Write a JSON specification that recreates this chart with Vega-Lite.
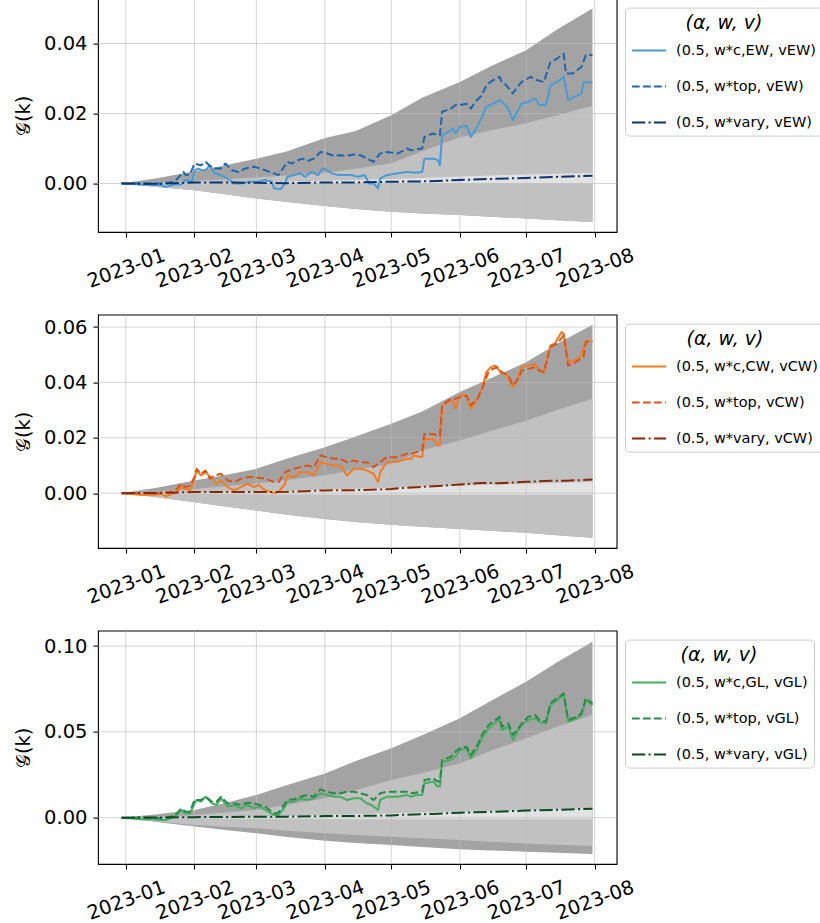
{
"$schema":"https://vega.github.io/schema/vega-lite/v6.json",
"padding":{"left":13,"top":-3.4,"right":0,"bottom":0},
"datasets":{
"gx":[{"d":"2023-01-01"},{"d":"2023-02-01"},{"d":"2023-03-01"},{"d":"2023-04-01"},{"d":"2023-05-01"},{"d":"2023-06-01"},{"d":"2023-07-01"},{"d":"2023-08-01"}],
"gy":[{"p":"E","v":0},{"p":"E","v":0.02},{"p":"E","v":0.04},{"p":"C","v":0},{"p":"C","v":0.02},{"p":"C","v":0.04},{"p":"C","v":0.06},{"p":"G","v":0},{"p":"G","v":0.05},{"p":"G","v":0.1}],
"bands":[
{"p":"E","d":"2022-12-30","dl":0,"dh":0,"ll":0,"lh":0,"sl":0,"sh":0},
{"p":"E","d":"2023-01-15","dl":-0.001,"dh":0.0015,"ll":-0.001,"lh":0.0003,"sl":0,"sh":0.0001},
{"p":"E","d":"2023-02-01","dl":-0.0019,"dh":0.0035,"ll":-0.0019,"lh":0.0008,"sl":0,"sh":0.0002},
{"p":"E","d":"2023-02-15","dl":-0.0031,"dh":0.0052,"ll":-0.0031,"lh":0.0012,"sl":0,"sh":0.0003},
{"p":"E","d":"2023-03-01","dl":-0.0043,"dh":0.0071,"ll":-0.0043,"lh":0.0017,"sl":0,"sh":0.0004},
{"p":"E","d":"2023-03-15","dl":-0.0053,"dh":0.0092,"ll":-0.0053,"lh":0.0023,"sl":0,"sh":0.0006},
{"p":"E","d":"2023-04-01","dl":-0.0064,"dh":0.013,"ll":-0.0064,"lh":0.0031,"sl":0,"sh":0.0008},
{"p":"E","d":"2023-04-15","dl":-0.0073,"dh":0.015,"ll":-0.0073,"lh":0.0042,"sl":0,"sh":0.001},
{"p":"E","d":"2023-05-01","dl":-0.0081,"dh":0.0195,"ll":-0.0081,"lh":0.0058,"sl":0,"sh":0.0013},
{"p":"E","d":"2023-05-15","dl":-0.0086,"dh":0.0245,"ll":-0.0086,"lh":0.0092,"sl":0,"sh":0.0016},
{"p":"E","d":"2023-06-01","dl":-0.009,"dh":0.029,"ll":-0.009,"lh":0.0132,"sl":0,"sh":0.002},
{"p":"E","d":"2023-06-15","dl":-0.0095,"dh":0.0335,"ll":-0.0095,"lh":0.0152,"sl":0,"sh":0.0023},
{"p":"E","d":"2023-07-01","dl":-0.01,"dh":0.0381,"ll":-0.01,"lh":0.0172,"sl":0,"sh":0.0026},
{"p":"E","d":"2023-07-15","dl":-0.0105,"dh":0.044,"ll":-0.0105,"lh":0.0195,"sl":0,"sh":0.0028},
{"p":"E","d":"2023-07-31","dl":-0.011,"dh":0.05,"ll":-0.011,"lh":0.0222,"sl":0,"sh":0.003},
{"p":"C","d":"2022-12-30","dl":0,"dh":0,"ll":0,"lh":0,"sl":0,"sh":0},
{"p":"C","d":"2023-01-15","dl":-0.0015,"dh":0.002,"ll":-0.0015,"lh":0.0005,"sl":-0.0001,"sh":0.0001},
{"p":"C","d":"2023-02-01","dl":-0.0033,"dh":0.0046,"ll":-0.0033,"lh":0.0015,"sl":-0.0002,"sh":0.0003},
{"p":"C","d":"2023-02-15","dl":-0.0048,"dh":0.0066,"ll":-0.0048,"lh":0.0025,"sl":-0.0003,"sh":0.0005},
{"p":"C","d":"2023-03-01","dl":-0.0063,"dh":0.0088,"ll":-0.0063,"lh":0.0035,"sl":-0.0004,"sh":0.0007},
{"p":"C","d":"2023-03-15","dl":-0.0078,"dh":0.0125,"ll":-0.0078,"lh":0.0048,"sl":-0.0005,"sh":0.0009},
{"p":"C","d":"2023-04-01","dl":-0.0093,"dh":0.0166,"ll":-0.0093,"lh":0.0065,"sl":-0.0005,"sh":0.0012},
{"p":"C","d":"2023-04-15","dl":-0.0104,"dh":0.0205,"ll":-0.0104,"lh":0.0085,"sl":-0.0006,"sh":0.0016},
{"p":"C","d":"2023-05-01","dl":-0.0114,"dh":0.0251,"ll":-0.0114,"lh":0.0105,"sl":-0.0006,"sh":0.002},
{"p":"C","d":"2023-05-15","dl":-0.0121,"dh":0.0295,"ll":-0.0121,"lh":0.0155,"sl":-0.0006,"sh":0.0024},
{"p":"C","d":"2023-06-01","dl":-0.0129,"dh":0.0365,"ll":-0.0129,"lh":0.019,"sl":-0.0006,"sh":0.0028},
{"p":"C","d":"2023-06-15","dl":-0.0136,"dh":0.0415,"ll":-0.0136,"lh":0.0225,"sl":-0.0006,"sh":0.0031},
{"p":"C","d":"2023-07-01","dl":-0.0143,"dh":0.0473,"ll":-0.0143,"lh":0.0262,"sl":-0.0006,"sh":0.0034},
{"p":"C","d":"2023-07-15","dl":-0.0152,"dh":0.054,"ll":-0.0152,"lh":0.03,"sl":-0.0006,"sh":0.0037},
{"p":"C","d":"2023-07-31","dl":-0.0161,"dh":0.0608,"ll":-0.0161,"lh":0.0341,"sl":-0.0006,"sh":0.004},
{"p":"G","d":"2022-12-30","dl":0,"dh":0,"ll":0,"lh":0,"sl":0,"sh":0},
{"p":"G","d":"2023-01-15","dl":-0.0025,"dh":0.002,"ll":-0.0022,"lh":0.0005,"sl":-0.0002,"sh":0.0001},
{"p":"G","d":"2023-02-01","dl":-0.0052,"dh":0.0045,"ll":-0.0043,"lh":0.0016,"sl":-0.0004,"sh":0.0003},
{"p":"G","d":"2023-02-15","dl":-0.0072,"dh":0.0085,"ll":-0.0053,"lh":0.003,"sl":-0.0005,"sh":0.0005},
{"p":"G","d":"2023-03-01","dl":-0.0091,"dh":0.0132,"ll":-0.0062,"lh":0.0045,"sl":-0.0006,"sh":0.0007},
{"p":"G","d":"2023-03-15","dl":-0.0113,"dh":0.019,"ll":-0.0077,"lh":0.0075,"sl":-0.0007,"sh":0.001},
{"p":"G","d":"2023-04-01","dl":-0.0134,"dh":0.0258,"ll":-0.0091,"lh":0.0113,"sl":-0.0008,"sh":0.0015},
{"p":"G","d":"2023-04-15","dl":-0.0148,"dh":0.033,"ll":-0.0101,"lh":0.016,"sl":-0.0009,"sh":0.002},
{"p":"G","d":"2023-05-01","dl":-0.0159,"dh":0.0404,"ll":-0.0111,"lh":0.0219,"sl":-0.001,"sh":0.0025},
{"p":"G","d":"2023-05-15","dl":-0.0171,"dh":0.048,"ll":-0.012,"lh":0.026,"sl":-0.001,"sh":0.003},
{"p":"G","d":"2023-06-01","dl":-0.0184,"dh":0.0579,"ll":-0.013,"lh":0.0316,"sl":-0.001,"sh":0.0035},
{"p":"G","d":"2023-06-15","dl":-0.0191,"dh":0.068,"ll":-0.014,"lh":0.039,"sl":-0.001,"sh":0.004},
{"p":"G","d":"2023-07-01","dl":-0.0198,"dh":0.0792,"ll":-0.015,"lh":0.0462,"sl":-0.001,"sh":0.0045},
{"p":"G","d":"2023-07-15","dl":-0.0205,"dh":0.0905,"ll":-0.0158,"lh":0.053,"sl":-0.001,"sh":0.005},
{"p":"G","d":"2023-07-31","dl":-0.0212,"dh":0.1025,"ll":-0.0165,"lh":0.06,"sl":-0.001,"sh":0.0055}
],
"lines":[
{"p":"E","s":"c","d":"2022-12-30","g":0},{"p":"E","s":"c","d":"2023-01-08","g":-0.0003},{"p":"E","s":"c","d":"2023-01-17","g":-0.0005},{"p":"E","s":"c","d":"2023-01-19","g":-0.001},{"p":"E","s":"c","d":"2023-01-23","g":-0.0003},{"p":"E","s":"c","d":"2023-01-26","g":-0.0003},{"p":"E","s":"c","d":"2023-01-28","g":0.001},{"p":"E","s":"c","d":"2023-01-31","g":0.0005},{"p":"E","s":"c","d":"2023-02-01","g":0.0038},{"p":"E","s":"c","d":"2023-02-03","g":0.0043},{"p":"E","s":"c","d":"2023-02-04","g":0.0038},{"p":"E","s":"c","d":"2023-02-06","g":0.0038},{"p":"E","s":"c","d":"2023-02-08","g":0.0052},{"p":"E","s":"c","d":"2023-02-10","g":0.0029},{"p":"E","s":"c","d":"2023-02-13","g":0.0024},{"p":"E","s":"c","d":"2023-02-16","g":0.0014},{"p":"E","s":"c","d":"2023-02-19","g":0},{"p":"E","s":"c","d":"2023-02-22","g":0},{"p":"E","s":"c","d":"2023-02-26","g":0.0005},{"p":"E","s":"c","d":"2023-03-02","g":0.0005},{"p":"E","s":"c","d":"2023-03-05","g":0.001},{"p":"E","s":"c","d":"2023-03-08","g":0.0005},{"p":"E","s":"c","d":"2023-03-09","g":-0.0014},{"p":"E","s":"c","d":"2023-03-12","g":-0.0016},{"p":"E","s":"c","d":"2023-03-14","g":0},{"p":"E","s":"c","d":"2023-03-15","g":0.0019},{"p":"E","s":"c","d":"2023-03-18","g":0.0024},{"p":"E","s":"c","d":"2023-03-21","g":0.0029},{"p":"E","s":"c","d":"2023-03-23","g":0.0019},{"p":"E","s":"c","d":"2023-03-26","g":0.0033},{"p":"E","s":"c","d":"2023-03-29","g":0.0024},{"p":"E","s":"c","d":"2023-03-31","g":0.0043},{"p":"E","s":"c","d":"2023-04-02","g":0.0038},{"p":"E","s":"c","d":"2023-04-04","g":0.0029},{"p":"E","s":"c","d":"2023-04-07","g":0.0024},{"p":"E","s":"c","d":"2023-04-10","g":0.0024},{"p":"E","s":"c","d":"2023-04-13","g":0.0024},{"p":"E","s":"c","d":"2023-04-16","g":0.0019},{"p":"E","s":"c","d":"2023-04-19","g":0.0024},{"p":"E","s":"c","d":"2023-04-21","g":0},{"p":"E","s":"c","d":"2023-04-23","g":0},{"p":"E","s":"c","d":"2023-04-25","g":-0.0014},{"p":"E","s":"c","d":"2023-04-26","g":0.0014},{"p":"E","s":"c","d":"2023-04-29","g":0.0024},{"p":"E","s":"c","d":"2023-05-04","g":0.0029},{"p":"E","s":"c","d":"2023-05-08","g":0.0033},{"p":"E","s":"c","d":"2023-05-12","g":0.0031},{"p":"E","s":"c","d":"2023-05-15","g":0.0033},{"p":"E","s":"c","d":"2023-05-16","g":0.0071},{"p":"E","s":"c","d":"2023-05-20","g":0.0071},{"p":"E","s":"c","d":"2023-05-22","g":0.0067},{"p":"E","s":"c","d":"2023-05-23","g":0.0052},{"p":"E","s":"c","d":"2023-05-24","g":0.0138},{"p":"E","s":"c","d":"2023-05-28","g":0.0152},{"p":"E","s":"c","d":"2023-05-29","g":0.0157},{"p":"E","s":"c","d":"2023-05-30","g":0.0143},{"p":"E","s":"c","d":"2023-06-01","g":0.0162},{"p":"E","s":"c","d":"2023-06-04","g":0.0165},{"p":"E","s":"c","d":"2023-06-06","g":0.0133},{"p":"E","s":"c","d":"2023-06-08","g":0.0152},{"p":"E","s":"c","d":"2023-06-11","g":0.019},{"p":"E","s":"c","d":"2023-06-13","g":0.0219},{"p":"E","s":"c","d":"2023-06-16","g":0.0228},{"p":"E","s":"c","d":"2023-06-19","g":0.0238},{"p":"E","s":"c","d":"2023-06-21","g":0.0228},{"p":"E","s":"c","d":"2023-06-23","g":0.0214},{"p":"E","s":"c","d":"2023-06-25","g":0.0181},{"p":"E","s":"c","d":"2023-06-27","g":0.0205},{"p":"E","s":"c","d":"2023-06-29","g":0.0228},{"p":"E","s":"c","d":"2023-07-02","g":0.0233},{"p":"E","s":"c","d":"2023-07-05","g":0.0243},{"p":"E","s":"c","d":"2023-07-07","g":0.0224},{"p":"E","s":"c","d":"2023-07-10","g":0.0224},{"p":"E","s":"c","d":"2023-07-12","g":0.0281},{"p":"E","s":"c","d":"2023-07-15","g":0.029},{"p":"E","s":"c","d":"2023-07-18","g":0.0305},{"p":"E","s":"c","d":"2023-07-20","g":0.0238},{"p":"E","s":"c","d":"2023-07-23","g":0.0248},{"p":"E","s":"c","d":"2023-07-26","g":0.0257},{"p":"E","s":"c","d":"2023-07-27","g":0.029},{"p":"E","s":"c","d":"2023-07-31","g":0.0288},
{"p":"E","s":"top","d":"2022-12-30","g":0},{"p":"E","s":"top","d":"2023-01-08","g":0},{"p":"E","s":"top","d":"2023-01-17","g":0},{"p":"E","s":"top","d":"2023-01-23","g":0.0005},{"p":"E","s":"top","d":"2023-01-25","g":0.0019},{"p":"E","s":"top","d":"2023-01-27","g":0.0033},{"p":"E","s":"top","d":"2023-01-28","g":0.0024},{"p":"E","s":"top","d":"2023-01-30","g":0.0026},{"p":"E","s":"top","d":"2023-02-01","g":0.0057},{"p":"E","s":"top","d":"2023-02-04","g":0.0052},{"p":"E","s":"top","d":"2023-02-06","g":0.0062},{"p":"E","s":"top","d":"2023-02-08","g":0.005},{"p":"E","s":"top","d":"2023-02-10","g":0.0043},{"p":"E","s":"top","d":"2023-02-13","g":0.0043},{"p":"E","s":"top","d":"2023-02-15","g":0.0057},{"p":"E","s":"top","d":"2023-02-18","g":0.0038},{"p":"E","s":"top","d":"2023-02-21","g":0.0033},{"p":"E","s":"top","d":"2023-02-24","g":0.0043},{"p":"E","s":"top","d":"2023-02-28","g":0.0048},{"p":"E","s":"top","d":"2023-03-05","g":0.0038},{"p":"E","s":"top","d":"2023-03-09","g":0.0029},{"p":"E","s":"top","d":"2023-03-11","g":0.0024},{"p":"E","s":"top","d":"2023-03-14","g":0.0052},{"p":"E","s":"top","d":"2023-03-15","g":0.0062},{"p":"E","s":"top","d":"2023-03-17","g":0.0057},{"p":"E","s":"top","d":"2023-03-20","g":0.0067},{"p":"E","s":"top","d":"2023-03-22","g":0.0071},{"p":"E","s":"top","d":"2023-03-24","g":0.0064},{"p":"E","s":"top","d":"2023-03-27","g":0.0071},{"p":"E","s":"top","d":"2023-03-30","g":0.009},{"p":"E","s":"top","d":"2023-04-02","g":0.0086},{"p":"E","s":"top","d":"2023-04-05","g":0.0079},{"p":"E","s":"top","d":"2023-04-08","g":0.0081},{"p":"E","s":"top","d":"2023-04-11","g":0.0079},{"p":"E","s":"top","d":"2023-04-14","g":0.0083},{"p":"E","s":"top","d":"2023-04-17","g":0.0081},{"p":"E","s":"top","d":"2023-04-20","g":0.0071},{"p":"E","s":"top","d":"2023-04-23","g":0.0062},{"p":"E","s":"top","d":"2023-04-26","g":0.0086},{"p":"E","s":"top","d":"2023-04-29","g":0.009},{"p":"E","s":"top","d":"2023-05-04","g":0.0086},{"p":"E","s":"top","d":"2023-05-08","g":0.01},{"p":"E","s":"top","d":"2023-05-10","g":0.0095},{"p":"E","s":"top","d":"2023-05-15","g":0.01},{"p":"E","s":"top","d":"2023-05-16","g":0.0133},{"p":"E","s":"top","d":"2023-05-20","g":0.0143},{"p":"E","s":"top","d":"2023-05-22","g":0.0138},{"p":"E","s":"top","d":"2023-05-23","g":0.0138},{"p":"E","s":"top","d":"2023-05-24","g":0.0205},{"p":"E","s":"top","d":"2023-05-28","g":0.0214},{"p":"E","s":"top","d":"2023-05-30","g":0.0224},{"p":"E","s":"top","d":"2023-06-01","g":0.0224},{"p":"E","s":"top","d":"2023-06-04","g":0.0228},{"p":"E","s":"top","d":"2023-06-06","g":0.0214},{"p":"E","s":"top","d":"2023-06-08","g":0.0233},{"p":"E","s":"top","d":"2023-06-11","g":0.0252},{"p":"E","s":"top","d":"2023-06-13","g":0.0281},{"p":"E","s":"top","d":"2023-06-16","g":0.0295},{"p":"E","s":"top","d":"2023-06-19","g":0.0305},{"p":"E","s":"top","d":"2023-06-20","g":0.029},{"p":"E","s":"top","d":"2023-06-22","g":0.0281},{"p":"E","s":"top","d":"2023-06-25","g":0.0257},{"p":"E","s":"top","d":"2023-06-27","g":0.0276},{"p":"E","s":"top","d":"2023-06-29","g":0.029},{"p":"E","s":"top","d":"2023-07-03","g":0.0305},{"p":"E","s":"top","d":"2023-07-06","g":0.0295},{"p":"E","s":"top","d":"2023-07-09","g":0.029},{"p":"E","s":"top","d":"2023-07-12","g":0.0347},{"p":"E","s":"top","d":"2023-07-15","g":0.0357},{"p":"E","s":"top","d":"2023-07-18","g":0.0371},{"p":"E","s":"top","d":"2023-07-19","g":0.0314},{"p":"E","s":"top","d":"2023-07-22","g":0.0314},{"p":"E","s":"top","d":"2023-07-26","g":0.0333},{"p":"E","s":"top","d":"2023-07-28","g":0.0367},{"p":"E","s":"top","d":"2023-07-31","g":0.0367},
{"p":"E","s":"vary","d":"2022-12-30","g":0},{"p":"E","s":"vary","d":"2023-01-15","g":-0.0001},{"p":"E","s":"vary","d":"2023-02-01","g":0.0003},{"p":"E","s":"vary","d":"2023-02-15","g":0.0003},{"p":"E","s":"vary","d":"2023-03-01","g":0.0002},{"p":"E","s":"vary","d":"2023-03-15","g":0.0001},{"p":"E","s":"vary","d":"2023-04-01","g":0.0003},{"p":"E","s":"vary","d":"2023-04-15","g":0.0003},{"p":"E","s":"vary","d":"2023-05-01","g":0.0005},{"p":"E","s":"vary","d":"2023-05-15","g":0.0006},{"p":"E","s":"vary","d":"2023-05-25","g":0.0008},{"p":"E","s":"vary","d":"2023-06-01","g":0.001},{"p":"E","s":"vary","d":"2023-06-15","g":0.0013},{"p":"E","s":"vary","d":"2023-07-01","g":0.0016},{"p":"E","s":"vary","d":"2023-07-15","g":0.0019},{"p":"E","s":"vary","d":"2023-07-31","g":0.0022},
{"p":"C","s":"c","d":"2022-12-30","g":0},{"p":"C","s":"c","d":"2023-01-08","g":-0.0006},{"p":"C","s":"c","d":"2023-01-14","g":-0.0006},{"p":"C","s":"c","d":"2023-01-17","g":-0.0002},{"p":"C","s":"c","d":"2023-01-19","g":-0.0012},{"p":"C","s":"c","d":"2023-01-22","g":-0.0002},{"p":"C","s":"c","d":"2023-01-24","g":0.0004},{"p":"C","s":"c","d":"2023-01-26","g":0.0022},{"p":"C","s":"c","d":"2023-01-28","g":0.0016},{"p":"C","s":"c","d":"2023-01-30","g":0.001},{"p":"C","s":"c","d":"2023-02-01","g":0.0052},{"p":"C","s":"c","d":"2023-02-02","g":0.0082},{"p":"C","s":"c","d":"2023-02-04","g":0.0064},{"p":"C","s":"c","d":"2023-02-06","g":0.0076},{"p":"C","s":"c","d":"2023-02-09","g":0.0052},{"p":"C","s":"c","d":"2023-02-11","g":0.0034},{"p":"C","s":"c","d":"2023-02-13","g":0.0046},{"p":"C","s":"c","d":"2023-02-16","g":0.0022},{"p":"C","s":"c","d":"2023-02-19","g":0.001},{"p":"C","s":"c","d":"2023-02-22","g":0.0022},{"p":"C","s":"c","d":"2023-02-25","g":0.0034},{"p":"C","s":"c","d":"2023-02-28","g":0.0022},{"p":"C","s":"c","d":"2023-03-02","g":0.003},{"p":"C","s":"c","d":"2023-03-05","g":0.001},{"p":"C","s":"c","d":"2023-03-09","g":0.0001},{"p":"C","s":"c","d":"2023-03-11","g":0.0004},{"p":"C","s":"c","d":"2023-03-14","g":0.0034},{"p":"C","s":"c","d":"2023-03-15","g":0.0064},{"p":"C","s":"c","d":"2023-03-18","g":0.0058},{"p":"C","s":"c","d":"2023-03-21","g":0.0076},{"p":"C","s":"c","d":"2023-03-24","g":0.0076},{"p":"C","s":"c","d":"2023-03-27","g":0.0064},{"p":"C","s":"c","d":"2023-03-30","g":0.0112},{"p":"C","s":"c","d":"2023-04-02","g":0.0106},{"p":"C","s":"c","d":"2023-04-05","g":0.01},{"p":"C","s":"c","d":"2023-04-08","g":0.01},{"p":"C","s":"c","d":"2023-04-11","g":0.0064},{"p":"C","s":"c","d":"2023-04-14","g":0.0088},{"p":"C","s":"c","d":"2023-04-17","g":0.0088},{"p":"C","s":"c","d":"2023-04-20","g":0.0082},{"p":"C","s":"c","d":"2023-04-23","g":0.007},{"p":"C","s":"c","d":"2023-04-25","g":0.004},{"p":"C","s":"c","d":"2023-04-26","g":0.0076},{"p":"C","s":"c","d":"2023-04-29","g":0.0112},{"p":"C","s":"c","d":"2023-05-04","g":0.0114},{"p":"C","s":"c","d":"2023-05-08","g":0.0124},{"p":"C","s":"c","d":"2023-05-10","g":0.0124},{"p":"C","s":"c","d":"2023-05-11","g":0.0136},{"p":"C","s":"c","d":"2023-05-15","g":0.013},{"p":"C","s":"c","d":"2023-05-16","g":0.0196},{"p":"C","s":"c","d":"2023-05-20","g":0.0196},{"p":"C","s":"c","d":"2023-05-22","g":0.0172},{"p":"C","s":"c","d":"2023-05-23","g":0.0172},{"p":"C","s":"c","d":"2023-05-24","g":0.0317},{"p":"C","s":"c","d":"2023-05-28","g":0.0335},{"p":"C","s":"c","d":"2023-05-29","g":0.0329},{"p":"C","s":"c","d":"2023-05-30","g":0.0305},{"p":"C","s":"c","d":"2023-06-01","g":0.0353},{"p":"C","s":"c","d":"2023-06-04","g":0.0355},{"p":"C","s":"c","d":"2023-06-06","g":0.0305},{"p":"C","s":"c","d":"2023-06-09","g":0.0341},{"p":"C","s":"c","d":"2023-06-11","g":0.0377},{"p":"C","s":"c","d":"2023-06-13","g":0.0437},{"p":"C","s":"c","d":"2023-06-15","g":0.0455},{"p":"C","s":"c","d":"2023-06-17","g":0.0461},{"p":"C","s":"c","d":"2023-06-20","g":0.0431},{"p":"C","s":"c","d":"2023-06-22","g":0.0431},{"p":"C","s":"c","d":"2023-06-25","g":0.0383},{"p":"C","s":"c","d":"2023-06-27","g":0.0413},{"p":"C","s":"c","d":"2023-06-29","g":0.0455},{"p":"C","s":"c","d":"2023-07-02","g":0.0461},{"p":"C","s":"c","d":"2023-07-05","g":0.0467},{"p":"C","s":"c","d":"2023-07-07","g":0.0443},{"p":"C","s":"c","d":"2023-07-09","g":0.0437},{"p":"C","s":"c","d":"2023-07-12","g":0.0534},{"p":"C","s":"c","d":"2023-07-14","g":0.054},{"p":"C","s":"c","d":"2023-07-17","g":0.0582},{"p":"C","s":"c","d":"2023-07-18","g":0.0576},{"p":"C","s":"c","d":"2023-07-20","g":0.0473},{"p":"C","s":"c","d":"2023-07-24","g":0.0483},{"p":"C","s":"c","d":"2023-07-26","g":0.0498},{"p":"C","s":"c","d":"2023-07-28","g":0.0552},{"p":"C","s":"c","d":"2023-07-31","g":0.0548},
{"p":"C","s":"top","d":"2022-12-30","g":0},{"p":"C","s":"top","d":"2023-01-08","g":0},{"p":"C","s":"top","d":"2023-01-17","g":0},{"p":"C","s":"top","d":"2023-01-23","g":0.0006},{"p":"C","s":"top","d":"2023-01-26","g":0.0034},{"p":"C","s":"top","d":"2023-01-28","g":0.0022},{"p":"C","s":"top","d":"2023-01-30","g":0.0028},{"p":"C","s":"top","d":"2023-02-01","g":0.0058},{"p":"C","s":"top","d":"2023-02-02","g":0.0088},{"p":"C","s":"top","d":"2023-02-04","g":0.007},{"p":"C","s":"top","d":"2023-02-06","g":0.0082},{"p":"C","s":"top","d":"2023-02-08","g":0.0052},{"p":"C","s":"top","d":"2023-02-10","g":0.0064},{"p":"C","s":"top","d":"2023-02-13","g":0.007},{"p":"C","s":"top","d":"2023-02-16","g":0.0046},{"p":"C","s":"top","d":"2023-02-19","g":0.004},{"p":"C","s":"top","d":"2023-02-22","g":0.0052},{"p":"C","s":"top","d":"2023-02-25","g":0.0058},{"p":"C","s":"top","d":"2023-02-28","g":0.0058},{"p":"C","s":"top","d":"2023-03-05","g":0.0052},{"p":"C","s":"top","d":"2023-03-09","g":0.004},{"p":"C","s":"top","d":"2023-03-11","g":0.004},{"p":"C","s":"top","d":"2023-03-14","g":0.0076},{"p":"C","s":"top","d":"2023-03-16","g":0.0082},{"p":"C","s":"top","d":"2023-03-18","g":0.0088},{"p":"C","s":"top","d":"2023-03-21","g":0.0094},{"p":"C","s":"top","d":"2023-03-24","g":0.01},{"p":"C","s":"top","d":"2023-03-27","g":0.0094},{"p":"C","s":"top","d":"2023-03-30","g":0.0136},{"p":"C","s":"top","d":"2023-04-02","g":0.013},{"p":"C","s":"top","d":"2023-04-05","g":0.0124},{"p":"C","s":"top","d":"2023-04-08","g":0.0124},{"p":"C","s":"top","d":"2023-04-11","g":0.0112},{"p":"C","s":"top","d":"2023-04-14","g":0.0118},{"p":"C","s":"top","d":"2023-04-17","g":0.0112},{"p":"C","s":"top","d":"2023-04-20","g":0.0112},{"p":"C","s":"top","d":"2023-04-23","g":0.0094},{"p":"C","s":"top","d":"2023-04-26","g":0.0112},{"p":"C","s":"top","d":"2023-04-29","g":0.013},{"p":"C","s":"top","d":"2023-05-04","g":0.013},{"p":"C","s":"top","d":"2023-05-08","g":0.0142},{"p":"C","s":"top","d":"2023-05-10","g":0.0142},{"p":"C","s":"top","d":"2023-05-15","g":0.0154},{"p":"C","s":"top","d":"2023-05-16","g":0.0214},{"p":"C","s":"top","d":"2023-05-20","g":0.0214},{"p":"C","s":"top","d":"2023-05-22","g":0.0208},{"p":"C","s":"top","d":"2023-05-23","g":0.0208},{"p":"C","s":"top","d":"2023-05-24","g":0.0317},{"p":"C","s":"top","d":"2023-05-28","g":0.0341},{"p":"C","s":"top","d":"2023-05-30","g":0.0341},{"p":"C","s":"top","d":"2023-06-01","g":0.0347},{"p":"C","s":"top","d":"2023-06-04","g":0.0353},{"p":"C","s":"top","d":"2023-06-06","g":0.0317},{"p":"C","s":"top","d":"2023-06-09","g":0.0341},{"p":"C","s":"top","d":"2023-06-11","g":0.0377},{"p":"C","s":"top","d":"2023-06-14","g":0.0437},{"p":"C","s":"top","d":"2023-06-16","g":0.0449},{"p":"C","s":"top","d":"2023-06-18","g":0.0455},{"p":"C","s":"top","d":"2023-06-20","g":0.0437},{"p":"C","s":"top","d":"2023-06-23","g":0.0425},{"p":"C","s":"top","d":"2023-06-25","g":0.0389},{"p":"C","s":"top","d":"2023-06-27","g":0.0407},{"p":"C","s":"top","d":"2023-06-29","g":0.0443},{"p":"C","s":"top","d":"2023-07-02","g":0.0449},{"p":"C","s":"top","d":"2023-07-05","g":0.0455},{"p":"C","s":"top","d":"2023-07-07","g":0.0443},{"p":"C","s":"top","d":"2023-07-09","g":0.0437},{"p":"C","s":"top","d":"2023-07-12","g":0.0528},{"p":"C","s":"top","d":"2023-07-15","g":0.054},{"p":"C","s":"top","d":"2023-07-18","g":0.057},{"p":"C","s":"top","d":"2023-07-20","g":0.0461},{"p":"C","s":"top","d":"2023-07-23","g":0.0471},{"p":"C","s":"top","d":"2023-07-27","g":0.0492},{"p":"C","s":"top","d":"2023-07-28","g":0.0546},{"p":"C","s":"top","d":"2023-07-31","g":0.0548},
{"p":"C","s":"vary","d":"2022-12-30","g":0},{"p":"C","s":"vary","d":"2023-01-15","g":0.0001},{"p":"C","s":"vary","d":"2023-02-01","g":0.0004},{"p":"C","s":"vary","d":"2023-02-15","g":0.0004},{"p":"C","s":"vary","d":"2023-03-01","g":0.0004},{"p":"C","s":"vary","d":"2023-03-15","g":0.0005},{"p":"C","s":"vary","d":"2023-04-01","g":0.001},{"p":"C","s":"vary","d":"2023-04-15","g":0.0011},{"p":"C","s":"vary","d":"2023-05-01","g":0.0015},{"p":"C","s":"vary","d":"2023-05-05","g":0.0018},{"p":"C","s":"vary","d":"2023-05-20","g":0.0025},{"p":"C","s":"vary","d":"2023-06-01","g":0.0031},{"p":"C","s":"vary","d":"2023-06-11","g":0.0037},{"p":"C","s":"vary","d":"2023-06-19","g":0.0036},{"p":"C","s":"vary","d":"2023-07-01","g":0.0041},{"p":"C","s":"vary","d":"2023-07-12","g":0.0045},{"p":"C","s":"vary","d":"2023-07-19","g":0.0045},{"p":"C","s":"vary","d":"2023-07-31","g":0.0049},
{"p":"G","s":"c","d":"2022-12-30","g":0},{"p":"G","s":"c","d":"2023-01-08","g":-0.001},{"p":"G","s":"c","d":"2023-01-14","g":-0.001},{"p":"G","s":"c","d":"2023-01-17","g":-0.0014},{"p":"G","s":"c","d":"2023-01-19","g":-0.0014},{"p":"G","s":"c","d":"2023-01-22","g":0},{"p":"G","s":"c","d":"2023-01-24","g":0.0016},{"p":"G","s":"c","d":"2023-01-26","g":0.0045},{"p":"G","s":"c","d":"2023-01-28","g":0.0025},{"p":"G","s":"c","d":"2023-01-30","g":0.0025},{"p":"G","s":"c","d":"2023-02-01","g":0.0083},{"p":"G","s":"c","d":"2023-02-02","g":0.0103},{"p":"G","s":"c","d":"2023-02-04","g":0.0093},{"p":"G","s":"c","d":"2023-02-06","g":0.0122},{"p":"G","s":"c","d":"2023-02-09","g":0.0083},{"p":"G","s":"c","d":"2023-02-11","g":0.0074},{"p":"G","s":"c","d":"2023-02-13","g":0.0113},{"p":"G","s":"c","d":"2023-02-16","g":0.0064},{"p":"G","s":"c","d":"2023-02-19","g":0.0074},{"p":"G","s":"c","d":"2023-02-22","g":0.0054},{"p":"G","s":"c","d":"2023-02-25","g":0.0074},{"p":"G","s":"c","d":"2023-02-28","g":0.0054},{"p":"G","s":"c","d":"2023-03-02","g":0.0068},{"p":"G","s":"c","d":"2023-03-05","g":0.0045},{"p":"G","s":"c","d":"2023-03-09","g":0.0016},{"p":"G","s":"c","d":"2023-03-11","g":0.0016},{"p":"G","s":"c","d":"2023-03-14","g":0.0064},{"p":"G","s":"c","d":"2023-03-15","g":0.0093},{"p":"G","s":"c","d":"2023-03-18","g":0.0093},{"p":"G","s":"c","d":"2023-03-21","g":0.0113},{"p":"G","s":"c","d":"2023-03-24","g":0.0103},{"p":"G","s":"c","d":"2023-03-27","g":0.0113},{"p":"G","s":"c","d":"2023-03-30","g":0.0142},{"p":"G","s":"c","d":"2023-04-02","g":0.0132},{"p":"G","s":"c","d":"2023-04-05","g":0.0122},{"p":"G","s":"c","d":"2023-04-08","g":0.0122},{"p":"G","s":"c","d":"2023-04-11","g":0.0103},{"p":"G","s":"c","d":"2023-04-14","g":0.0113},{"p":"G","s":"c","d":"2023-04-17","g":0.0113},{"p":"G","s":"c","d":"2023-04-20","g":0.0083},{"p":"G","s":"c","d":"2023-04-22","g":0.0074},{"p":"G","s":"c","d":"2023-04-25","g":0.0045},{"p":"G","s":"c","d":"2023-04-26","g":0.0103},{"p":"G","s":"c","d":"2023-04-29","g":0.0122},{"p":"G","s":"c","d":"2023-05-04","g":0.0122},{"p":"G","s":"c","d":"2023-05-08","g":0.0132},{"p":"G","s":"c","d":"2023-05-10","g":0.0122},{"p":"G","s":"c","d":"2023-05-12","g":0.0132},{"p":"G","s":"c","d":"2023-05-15","g":0.0132},{"p":"G","s":"c","d":"2023-05-16","g":0.02},{"p":"G","s":"c","d":"2023-05-20","g":0.021},{"p":"G","s":"c","d":"2023-05-22","g":0.0181},{"p":"G","s":"c","d":"2023-05-23","g":0.0181},{"p":"G","s":"c","d":"2023-05-24","g":0.0326},{"p":"G","s":"c","d":"2023-05-28","g":0.0336},{"p":"G","s":"c","d":"2023-05-29","g":0.0346},{"p":"G","s":"c","d":"2023-05-30","g":0.0355},{"p":"G","s":"c","d":"2023-06-01","g":0.0394},{"p":"G","s":"c","d":"2023-06-04","g":0.0404},{"p":"G","s":"c","d":"2023-06-06","g":0.0346},{"p":"G","s":"c","d":"2023-06-09","g":0.0404},{"p":"G","s":"c","d":"2023-06-11","g":0.0462},{"p":"G","s":"c","d":"2023-06-14","g":0.052},{"p":"G","s":"c","d":"2023-06-16","g":0.054},{"p":"G","s":"c","d":"2023-06-19","g":0.0579},{"p":"G","s":"c","d":"2023-06-20","g":0.0511},{"p":"G","s":"c","d":"2023-06-23","g":0.053},{"p":"G","s":"c","d":"2023-06-25","g":0.0452},{"p":"G","s":"c","d":"2023-06-27","g":0.0501},{"p":"G","s":"c","d":"2023-06-29","g":0.054},{"p":"G","s":"c","d":"2023-07-02","g":0.0569},{"p":"G","s":"c","d":"2023-07-05","g":0.0579},{"p":"G","s":"c","d":"2023-07-07","g":0.0559},{"p":"G","s":"c","d":"2023-07-10","g":0.0549},{"p":"G","s":"c","d":"2023-07-12","g":0.0656},{"p":"G","s":"c","d":"2023-07-15","g":0.0685},{"p":"G","s":"c","d":"2023-07-18","g":0.0715},{"p":"G","s":"c","d":"2023-07-20","g":0.0559},{"p":"G","s":"c","d":"2023-07-24","g":0.0579},{"p":"G","s":"c","d":"2023-07-26","g":0.0598},{"p":"G","s":"c","d":"2023-07-28","g":0.0685},{"p":"G","s":"c","d":"2023-07-31","g":0.0656},
{"p":"G","s":"top","d":"2022-12-30","g":0},{"p":"G","s":"top","d":"2023-01-08","g":0},{"p":"G","s":"top","d":"2023-01-17","g":-0.0004},{"p":"G","s":"top","d":"2023-01-23","g":0.001},{"p":"G","s":"top","d":"2023-01-26","g":0.0054},{"p":"G","s":"top","d":"2023-01-28","g":0.0035},{"p":"G","s":"top","d":"2023-01-30","g":0.0035},{"p":"G","s":"top","d":"2023-02-01","g":0.0103},{"p":"G","s":"top","d":"2023-02-04","g":0.0103},{"p":"G","s":"top","d":"2023-02-06","g":0.0122},{"p":"G","s":"top","d":"2023-02-09","g":0.0093},{"p":"G","s":"top","d":"2023-02-11","g":0.0093},{"p":"G","s":"top","d":"2023-02-13","g":0.0122},{"p":"G","s":"top","d":"2023-02-16","g":0.0083},{"p":"G","s":"top","d":"2023-02-19","g":0.0083},{"p":"G","s":"top","d":"2023-02-22","g":0.0074},{"p":"G","s":"top","d":"2023-02-25","g":0.0087},{"p":"G","s":"top","d":"2023-02-28","g":0.0083},{"p":"G","s":"top","d":"2023-03-05","g":0.0064},{"p":"G","s":"top","d":"2023-03-09","g":0.0025},{"p":"G","s":"top","d":"2023-03-11","g":0.0029},{"p":"G","s":"top","d":"2023-03-14","g":0.0083},{"p":"G","s":"top","d":"2023-03-15","g":0.0103},{"p":"G","s":"top","d":"2023-03-18","g":0.0107},{"p":"G","s":"top","d":"2023-03-21","g":0.0122},{"p":"G","s":"top","d":"2023-03-24","g":0.0132},{"p":"G","s":"top","d":"2023-03-27","g":0.0122},{"p":"G","s":"top","d":"2023-03-30","g":0.0165},{"p":"G","s":"top","d":"2023-04-02","g":0.0151},{"p":"G","s":"top","d":"2023-04-05","g":0.0142},{"p":"G","s":"top","d":"2023-04-08","g":0.0142},{"p":"G","s":"top","d":"2023-04-11","g":0.0151},{"p":"G","s":"top","d":"2023-04-14","g":0.0151},{"p":"G","s":"top","d":"2023-04-17","g":0.0142},{"p":"G","s":"top","d":"2023-04-20","g":0.0132},{"p":"G","s":"top","d":"2023-04-23","g":0.0103},{"p":"G","s":"top","d":"2023-04-26","g":0.0142},{"p":"G","s":"top","d":"2023-04-29","g":0.0151},{"p":"G","s":"top","d":"2023-05-04","g":0.0151},{"p":"G","s":"top","d":"2023-05-08","g":0.0151},{"p":"G","s":"top","d":"2023-05-10","g":0.0142},{"p":"G","s":"top","d":"2023-05-15","g":0.0151},{"p":"G","s":"top","d":"2023-05-16","g":0.0219},{"p":"G","s":"top","d":"2023-05-20","g":0.0229},{"p":"G","s":"top","d":"2023-05-22","g":0.021},{"p":"G","s":"top","d":"2023-05-23","g":0.021},{"p":"G","s":"top","d":"2023-05-24","g":0.0336},{"p":"G","s":"top","d":"2023-05-28","g":0.0355},{"p":"G","s":"top","d":"2023-05-30","g":0.0384},{"p":"G","s":"top","d":"2023-06-01","g":0.0404},{"p":"G","s":"top","d":"2023-06-04","g":0.0414},{"p":"G","s":"top","d":"2023-06-06","g":0.0365},{"p":"G","s":"top","d":"2023-06-09","g":0.0423},{"p":"G","s":"top","d":"2023-06-11","g":0.0482},{"p":"G","s":"top","d":"2023-06-14","g":0.054},{"p":"G","s":"top","d":"2023-06-16","g":0.0559},{"p":"G","s":"top","d":"2023-06-19","g":0.0588},{"p":"G","s":"top","d":"2023-06-20","g":0.053},{"p":"G","s":"top","d":"2023-06-23","g":0.0549},{"p":"G","s":"top","d":"2023-06-25","g":0.0482},{"p":"G","s":"top","d":"2023-06-27","g":0.0511},{"p":"G","s":"top","d":"2023-06-29","g":0.0549},{"p":"G","s":"top","d":"2023-07-02","g":0.0588},{"p":"G","s":"top","d":"2023-07-05","g":0.0598},{"p":"G","s":"top","d":"2023-07-07","g":0.0569},{"p":"G","s":"top","d":"2023-07-10","g":0.0559},{"p":"G","s":"top","d":"2023-07-12","g":0.0666},{"p":"G","s":"top","d":"2023-07-15","g":0.0695},{"p":"G","s":"top","d":"2023-07-18","g":0.0724},{"p":"G","s":"top","d":"2023-07-20","g":0.0569},{"p":"G","s":"top","d":"2023-07-24","g":0.0588},{"p":"G","s":"top","d":"2023-07-26","g":0.0608},{"p":"G","s":"top","d":"2023-07-28","g":0.0695},{"p":"G","s":"top","d":"2023-07-31","g":0.0666},
{"p":"G","s":"vary","d":"2022-12-30","g":0},{"p":"G","s":"vary","d":"2023-01-15","g":0.0001},{"p":"G","s":"vary","d":"2023-02-01","g":0.0003},{"p":"G","s":"vary","d":"2023-02-15","g":0.0004},{"p":"G","s":"vary","d":"2023-03-01","g":0.0005},{"p":"G","s":"vary","d":"2023-03-15","g":0.0006},{"p":"G","s":"vary","d":"2023-04-01","g":0.0009},{"p":"G","s":"vary","d":"2023-04-15","g":0.001},{"p":"G","s":"vary","d":"2023-05-01","g":0.0013},{"p":"G","s":"vary","d":"2023-05-05","g":0.0016},{"p":"G","s":"vary","d":"2023-05-20","g":0.0022},{"p":"G","s":"vary","d":"2023-06-01","g":0.0029},{"p":"G","s":"vary","d":"2023-06-15","g":0.0034},{"p":"G","s":"vary","d":"2023-07-01","g":0.0041},{"p":"G","s":"vary","d":"2023-07-15","g":0.0046},{"p":"G","s":"vary","d":"2023-07-31","g":0.0052}
]
},
"vconcat":[
{"width":518.6,"height":233.4,
"layer":[
{"data":{"name":"bands"},"transform":[{"filter":"datum.p==='E'"}],"mark":{"type":"area","color":"#a3a3a3"},
"encoding":{"x":{"field":"d","type":"temporal","title":null,"scale":{"type":"utc","nice":false,"domain":[{"year":2022,"month":12,"date":19,"hours":9,"utc":true},{"year":2023,"month":8,"date":10,"hours":22,"utc":true}]},
"axis":{"title":null,"format":"%Y-%m","values":[{"year":2023,"month":1,"date":1,"utc":true},{"year":2023,"month":2,"date":1,"utc":true},{"year":2023,"month":3,"date":1,"utc":true},{"year":2023,"month":4,"date":1,"utc":true},{"year":2023,"month":5,"date":1,"utc":true},{"year":2023,"month":6,"date":1,"utc":true},{"year":2023,"month":7,"date":1,"utc":true},{"year":2023,"month":8,"date":1,"utc":true}],"labelAngle":-20,"labelAlign":"center","labelBaseline":"middle","labelPadding":31,"labelOverlap":false,"labelFlush":false,"labelBound":false}},
"y":{"field":"dl","type":"quantitative","title":"𝒢(k)","scale":{"domain":[-0.01386,0.05283],"nice":false,"zero":false},"axis":{"title":"𝒢(k)","values":[0,0.02,0.04],"format":".2f","labelOverlap":false,"labelFlush":false}},
"y2":{"field":"dh"}}},
{"data":{"name":"bands"},"transform":[{"filter":"datum.p==='E'"}],"mark":{"type":"area","color":"#c1c1c1"},"encoding":{"x":{"field":"d","type":"temporal","title":null},"y":{"field":"ll","type":"quantitative","title":"𝒢(k)"},"y2":{"field":"lh"}}},
{"data":{"name":"bands"},"transform":[{"filter":"datum.p==='E'"}],"mark":{"type":"area","color":"#e2e2e2"},"encoding":{"x":{"field":"d","type":"temporal","title":null},"y":{"field":"sl","type":"quantitative","title":"𝒢(k)"},"y2":{"field":"sh"}}},
{"data":{"name":"gx"},"mark":{"type":"rule","color":"#bdbdbd","opacity":0.65,"strokeWidth":1},"encoding":{"x":{"field":"d","type":"temporal","title":null}}},
{"data":{"name":"gy"},"transform":[{"filter":"datum.p==='E'"}],"mark":{"type":"rule","color":"#bdbdbd","opacity":0.65,"strokeWidth":1},"encoding":{"y":{"field":"v","type":"quantitative","title":"𝒢(k)"}}},
{"data":{"name":"lines"},"transform":[{"filter":"datum.p==='E'"}],"mark":{"type":"line","strokeWidth":2,"strokeJoin":"round"},
"encoding":{"x":{"field":"d","type":"temporal","title":null},"y":{"field":"g","type":"quantitative","title":"𝒢(k)"},
"color":{"field":"s","type":"nominal","scale":{"domain":["c","top","vary"],"range":["#4a9ad6","#2066ae","#0a3370"]},"legend":{"title":"(α, w, v)","labelExpr":"datum.value==='c' ? '(0.5, w*c,EW, vEW)' : datum.value==='top' ? '(0.5, w*top, vEW)' : '(0.5, w*vary, vEW)'"}},
"strokeDash":{"field":"s","type":"nominal","scale":{"domain":["c","top","vary"],"range":[[1,0],[7.7,3.3],[13.3,3.3,2.1,3.3]]},"legend":{"title":"(α, w, v)","labelExpr":"datum.value==='c' ? '(0.5, w*c,EW, vEW)' : datum.value==='top' ? '(0.5, w*top, vEW)' : '(0.5, w*vary, vEW)'"}}}}
]},
{"width":518.6,"height":233.4,
"layer":[
{"data":{"name":"bands"},"transform":[{"filter":"datum.p==='C'"}],"mark":{"type":"area","color":"#a3a3a3"},
"encoding":{"x":{"field":"d","type":"temporal","title":null,"scale":{"type":"utc","nice":false,"domain":[{"year":2022,"month":12,"date":19,"hours":9,"utc":true},{"year":2023,"month":8,"date":10,"hours":22,"utc":true}]},
"axis":{"title":null,"format":"%Y-%m","values":[{"year":2023,"month":1,"date":1,"utc":true},{"year":2023,"month":2,"date":1,"utc":true},{"year":2023,"month":3,"date":1,"utc":true},{"year":2023,"month":4,"date":1,"utc":true},{"year":2023,"month":5,"date":1,"utc":true},{"year":2023,"month":6,"date":1,"utc":true},{"year":2023,"month":7,"date":1,"utc":true},{"year":2023,"month":8,"date":1,"utc":true}],"labelAngle":-20,"labelAlign":"center","labelBaseline":"middle","labelPadding":31,"labelOverlap":false,"labelFlush":false,"labelBound":false}},
"y":{"field":"dl","type":"quantitative","title":"𝒢(k)","scale":{"domain":[-0.0198,0.0645],"nice":false,"zero":false},"axis":{"title":"𝒢(k)","values":[0,0.02,0.04,0.06],"format":".2f","labelOverlap":false,"labelFlush":false}},
"y2":{"field":"dh"}}},
{"data":{"name":"bands"},"transform":[{"filter":"datum.p==='C'"}],"mark":{"type":"area","color":"#c1c1c1"},"encoding":{"x":{"field":"d","type":"temporal","title":null},"y":{"field":"ll","type":"quantitative","title":"𝒢(k)"},"y2":{"field":"lh"}}},
{"data":{"name":"bands"},"transform":[{"filter":"datum.p==='C'"}],"mark":{"type":"area","color":"#e2e2e2"},"encoding":{"x":{"field":"d","type":"temporal","title":null},"y":{"field":"sl","type":"quantitative","title":"𝒢(k)"},"y2":{"field":"sh"}}},
{"data":{"name":"gx"},"mark":{"type":"rule","color":"#bdbdbd","opacity":0.65,"strokeWidth":1},"encoding":{"x":{"field":"d","type":"temporal","title":null}}},
{"data":{"name":"gy"},"transform":[{"filter":"datum.p==='C'"}],"mark":{"type":"rule","color":"#bdbdbd","opacity":0.65,"strokeWidth":1},"encoding":{"y":{"field":"v","type":"quantitative","title":"𝒢(k)"}}},
{"data":{"name":"lines"},"transform":[{"filter":"datum.p==='C'"}],"mark":{"type":"line","strokeWidth":2,"strokeJoin":"round"},
"encoding":{"x":{"field":"d","type":"temporal","title":null},"y":{"field":"g","type":"quantitative","title":"𝒢(k)"},
"color":{"field":"s","type":"nominal","scale":{"domain":["c","top","vary"],"range":["#f57a22","#d9541a","#842a06"]},"legend":{"title":"(α, w, v)","labelExpr":"datum.value==='c' ? '(0.5, w*c,CW, vCW)' : datum.value==='top' ? '(0.5, w*top, vCW)' : '(0.5, w*vary, vCW)'"}},
"strokeDash":{"field":"s","type":"nominal","scale":{"domain":["c","top","vary"],"range":[[1,0],[7.7,3.3],[13.3,3.3,2.1,3.3]]},"legend":{"title":"(α, w, v)","labelExpr":"datum.value==='c' ? '(0.5, w*c,CW, vCW)' : datum.value==='top' ? '(0.5, w*top, vCW)' : '(0.5, w*vary, vCW)'"}}}}
]},
{"width":518.6,"height":233.4,
"layer":[
{"data":{"name":"bands"},"transform":[{"filter":"datum.p==='G'"}],"mark":{"type":"area","color":"#a3a3a3"},
"encoding":{"x":{"field":"d","type":"temporal","title":null,"scale":{"type":"utc","nice":false,"domain":[{"year":2022,"month":12,"date":19,"hours":9,"utc":true},{"year":2023,"month":8,"date":10,"hours":22,"utc":true}]},
"axis":{"title":null,"format":"%Y-%m","values":[{"year":2023,"month":1,"date":1,"utc":true},{"year":2023,"month":2,"date":1,"utc":true},{"year":2023,"month":3,"date":1,"utc":true},{"year":2023,"month":4,"date":1,"utc":true},{"year":2023,"month":5,"date":1,"utc":true},{"year":2023,"month":6,"date":1,"utc":true},{"year":2023,"month":7,"date":1,"utc":true},{"year":2023,"month":8,"date":1,"utc":true}],"labelAngle":-20,"labelAlign":"center","labelBaseline":"middle","labelPadding":31,"labelOverlap":false,"labelFlush":false,"labelBound":false}},
"y":{"field":"dl","type":"quantitative","title":"𝒢(k)","scale":{"domain":[-0.027,0.109],"nice":false,"zero":false},"axis":{"title":"𝒢(k)","values":[0,0.05,0.1],"format":".2f","labelOverlap":false,"labelFlush":false}},
"y2":{"field":"dh"}}},
{"data":{"name":"bands"},"transform":[{"filter":"datum.p==='G'"}],"mark":{"type":"area","color":"#c1c1c1"},"encoding":{"x":{"field":"d","type":"temporal","title":null},"y":{"field":"ll","type":"quantitative","title":"𝒢(k)"},"y2":{"field":"lh"}}},
{"data":{"name":"bands"},"transform":[{"filter":"datum.p==='G'"}],"mark":{"type":"area","color":"#e2e2e2"},"encoding":{"x":{"field":"d","type":"temporal","title":null},"y":{"field":"sl","type":"quantitative","title":"𝒢(k)"},"y2":{"field":"sh"}}},
{"data":{"name":"gx"},"mark":{"type":"rule","color":"#bdbdbd","opacity":0.65,"strokeWidth":1},"encoding":{"x":{"field":"d","type":"temporal","title":null}}},
{"data":{"name":"gy"},"transform":[{"filter":"datum.p==='G'"}],"mark":{"type":"rule","color":"#bdbdbd","opacity":0.65,"strokeWidth":1},"encoding":{"y":{"field":"v","type":"quantitative","title":"𝒢(k)"}}},
{"data":{"name":"lines"},"transform":[{"filter":"datum.p==='G'"}],"mark":{"type":"line","strokeWidth":2,"strokeJoin":"round"},
"encoding":{"x":{"field":"d","type":"temporal","title":null},"y":{"field":"g","type":"quantitative","title":"𝒢(k)"},
"color":{"field":"s","type":"nominal","scale":{"domain":["c","top","vary"],"range":["#44ae5e","#278c47","#0a4a22"]},"legend":{"title":"(α, w, v)","labelExpr":"datum.value==='c' ? '(0.5, w*c,GL, vGL)' : datum.value==='top' ? '(0.5, w*top, vGL)' : '(0.5, w*vary, vGL)'"}},
"strokeDash":{"field":"s","type":"nominal","scale":{"domain":["c","top","vary"],"range":[[1,0],[7.7,3.3],[13.3,3.3,2.1,3.3]]},"legend":{"title":"(α, w, v)","labelExpr":"datum.value==='c' ? '(0.5, w*c,GL, vGL)' : datum.value==='top' ? '(0.5, w*top, vGL)' : '(0.5, w*vary, vGL)'"}}}}
]}
],
"spacing":82,
"bounds":"flush",
"resolve":{"scale":{"color":"independent","strokeDash":"independent","x":"independent","y":"independent"},"legend":{"color":"independent","strokeDash":"independent"}},
"config":{
"font":"DejaVu Sans",
"background":"white",
"view":{"stroke":"#000000","strokeWidth":1.1},
"axis":{"grid":false,"domain":false,"tickColor":"#000000","tickSize":5,"tickWidth":1.1,"labelFontSize":19.5,"labelColor":"#000000","labelFont":"DejaVu Sans","titleFont":"DejaVu Sans","titleFontSize":19.5,"titleFontWeight":"normal","titleColor":"#000000","labelPadding":6},
"axisY":{"titlePadding":10},
"legend":{"orient":"none","legendX":527,"legendY":9,"titleFontSize":19,"titleFont":"DejaVu Sans","titleFontStyle":"italic","titleFontWeight":"normal","titleColor":"#000000","titleAnchor":"middle","titlePadding":0,"labelFontSize":14.5,"labelFont":"DejaVu Sans","labelColor":"#000000","symbolType":"stroke","symbolSize":1156,"symbolStrokeWidth":2,"labelOffset":9,"rowPadding":11,"padding":6,"strokeColor":"#cccccc","fillColor":"white","cornerRadius":4,"labelLimit":400}
}
}
